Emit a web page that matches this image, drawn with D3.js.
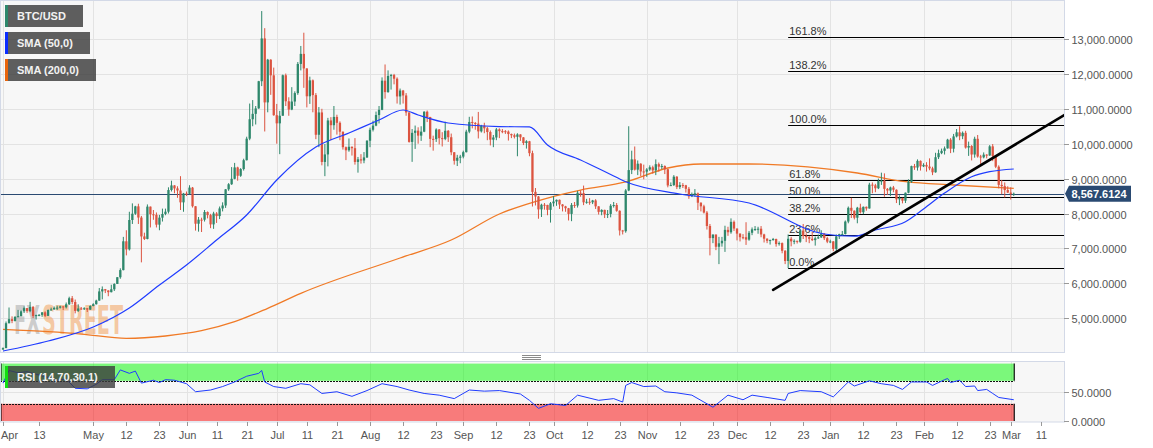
<!DOCTYPE html>
<html><head><meta charset="utf-8">
<script src="https://cdn.jsdelivr.net/npm/d3@7"></script>
<style>
html,body{margin:0;padding:0;background:#fff;}
svg{display:block;font-family:"Liberation Sans",Arial,sans-serif;}
</style></head><body>
<svg id="chart" width="1153" height="448"></svg>
<script>
// ---------------- DATA ----------------
const firstDay = "2019-04-01";
const open = [
4103,4144,4857,4973,4922,5036,5059,5198,5289,5204,5324,5064,5089,5096,5167,5067,5235,5251,5298,5303,5337,5314,5399,5572,5464,5210,5279,5268,5285,5247,
5350,5402,5505,5768,5831,5795,5746,5829,5982,6174,6379,7204,6972,7814,7994,8205,7884,7343,7271,8197,7978,7963,7680,7881,7987,8052,8673,8805,8719,8659,8319,
8574,8564,8742,8208,7707,7824,7822,8043,7954,7688,8000,7927,8145,8230,8693,8838,8994,9320,9081,9273,9527,10144,10701,10855,11011,11790,13016,11183,12407,11959,
10817,10583,10801,11961,11215,10978,11208,11450,12285,12573,12156,11358,11815,11392,10256,10895,9477,9693,10666,10530,10767,10599,10343,9900,9811,9912,9871,9477,9552,9519,9607,
10085,10399,10518,10821,10970,11805,11478,11941,11966,11862,11354,11523,11382,10895,10051,10311,10374,10231,10345,10916,10763,10138,10131,10407,10159,10138,10370,10185,9754,9510,9598,
9630,9757,10346,10623,10594,10575,10353,10517,10441,10334,10115,10178,10410,10360,10358,10347,10276,10241,10198,10266,10181,10019,10070,9729,8620,8486,8118,8251,8245,8104,
8293,8343,8393,8259,8205,8151,7988,8245,8228,8595,8586,8321,8336,8321,8374,8205,8047,8103,7973,7988,8222,8243,8078,7514,7493,8660,9244,9551,9256,9427,9205,
9199,9261,9324,9235,9413,9342,9360,9267,8804,8813,9055,8757,8815,8808,8708,8491,8550,8577,8309,8206,8027,7642,7296,7397,7047,7146,7218,7531,7463,7761,
7569,7424,7321,7320,7252,7448,7546,7556,7564,7400,7278,7217,7243,7269,7124,7152,6932,6640,7276,7202,7218,7191,7511,7355,7322,7275,7238,7290,7317,7422,7293,
7193,7200,6985,7345,7410,7411,7769,8163,8079,7879,8166,8037,8192,8144,8827,8807,8723,8929,8942,8706,8657,8745,8680,8406,8445,8367,8596,8910,9358,9316,9508,
9350,9392,9344,9293,9180,9613,9729,9795,9865,10116,9856,10208,10326,10214,10312,9889,9934,9690,10141,9633,9608,9686,9663,9924,9650,9341,8820,8784,8672,
8599,8562];
const high = [
4164,4906,5307,5053,5060,5238,5228,5338,5289,5468,5347,5103,5118,5176,5196,5250,5303,5336,5360,5358,5346,5450,5616,5636,5535,5398,5321,5315,5291,5370,
5430,5530,5865,5910,5838,5800,5960,6000,6180,6430,7330,7520,8050,8290,8220,8280,7930,7450,8260,8200,8100,8030,7960,8140,8140,8750,8940,8810,8780,9070,8590,
8630,8810,8760,8210,7900,7880,8100,8060,7990,8050,8040,8200,8320,8700,8870,9330,9450,9340,9300,9570,10200,11150,11250,11080,11800,13800,13310,12430,12420,12180,
11140,10940,11980,12010,11330,11620,11500,12340,12800,13180,12160,11920,11840,11450,11050,11000,9990,10740,10760,11080,10830,10640,10350,9920,10150,9920,10160,9620,9700,9760,10100,
10460,10660,10920,11080,11900,12270,12100,12000,12000,11900,11580,11540,11450,10900,10420,10520,10470,10500,10930,10950,10770,10230,10440,10420,10330,10630,10390,10290,9760,9680,9680,
9800,10400,10770,10780,10620,10910,10540,10600,10480,10380,10250,10450,10440,10420,10390,10380,10290,10290,10300,10270,10190,10100,10080,9800,8730,8500,8280,8300,8250,8330,
8500,8400,8400,8270,8220,8160,8300,8330,8650,8660,8800,8420,8440,8390,8410,8210,8120,8110,8100,8270,8330,8300,8090,7530,8700,10500,9800,9920,9520,9440,9400,
9300,9380,9370,9550,9460,9420,9380,9280,8890,9100,9070,8900,8870,8820,8760,8600,8700,8600,8320,8250,8070,7700,7400,7400,7330,7330,7650,7620,7860,7800,
7570,7430,7410,7750,7500,7600,7640,7620,7640,7420,7290,7250,7300,7280,7200,7170,6950,7400,7330,7260,7220,7520,7700,7430,7360,7480,7340,7400,7520,7440,7330,
7250,7210,7400,7420,7500,7800,8200,8450,8090,8190,8280,8200,8200,8880,8890,8850,9000,9170,9150,8730,8770,8790,8690,8520,8450,8600,8980,9370,9420,9550,9520,
9440,9470,9580,9340,9740,9830,9860,9920,10140,10160,10280,10420,10500,10350,10370,10060,9960,10200,10250,9680,9750,9700,9960,9990,9660,9380,8960,8890,8780,
8750,8600];
const low = [
4096,4140,4850,4858,4906,5023,5056,5150,5153,5172,5004,4962,5057,5040,5032,5065,5221,5245,5234,5278,5233,5280,5380,5400,5140,5180,5240,5236,5178,5238,
5340,5390,5500,5540,5720,5630,5740,5780,5980,6130,6370,6800,6940,7700,7960,7700,6600,7240,7260,7600,7820,7600,7520,7770,7950,8000,8630,8580,8450,8100,8050,
8500,8550,8170,7510,7480,7470,7770,7860,7580,7560,7730,7840,8060,8160,8650,8820,8980,8940,9050,9230,9520,10100,10500,10550,11000,11650,10350,10900,11400,10800,
10000,9700,10800,11080,10800,10960,11080,11400,12100,11600,11040,11140,10900,10130,9900,9380,9070,9350,10100,10400,10260,10100,9830,9530,9770,9660,9400,9170,9430,9440,9590,
9900,10350,10500,10580,10960,11290,11460,11550,11700,11150,11120,11150,10800,10030,9480,9850,10000,10080,10330,10620,9900,9800,10050,9980,9920,10100,10050,9670,9400,9360,9440,
9580,9750,10300,10440,10400,10150,10320,10300,10100,9950,9900,10100,10160,10300,10280,10090,10160,10150,9640,10080,9960,9860,9640,8200,8230,7850,7900,8110,7950,7740,
8200,8220,8130,8060,8050,7800,7780,8160,8170,8480,8240,8280,8250,8270,8130,7970,7950,7870,7870,7890,8170,8050,7370,7400,7450,8640,9130,9230,9100,9070,8980,
9050,9220,9140,9100,9200,9270,9130,8750,8790,8790,8700,8700,8730,8600,8420,8470,8480,8100,8060,8000,7540,6800,7150,6950,6550,7050,6900,7360,7420,7500,
7230,7200,7260,7100,7220,7380,7500,7420,7320,7170,7150,7110,7220,7050,7080,6860,6550,6435,7060,7120,7140,7160,7270,7180,7150,7210,7080,7270,7300,7240,7150,
7150,6920,6870,7270,7360,7400,7720,7870,7830,7720,8000,7980,8080,8140,8580,8610,8700,8820,8480,8530,8500,8610,8300,8240,8290,8300,8580,8880,9250,9230,9230,
9330,9200,9240,9100,9170,9560,9700,9690,9860,9730,9750,10180,10100,10130,9860,9650,9520,9600,9600,9420,9580,9580,9650,9500,9300,8720,8550,8460,8590,
8400,8500];
const close = [
4144,4857,4973,4922,5036,5059,5198,5289,5204,5324,5064,5089,5096,5167,5067,5235,5251,5298,5303,5337,5314,5399,5572,5464,5210,5279,5268,5285,5247,5350,
5402,5505,5768,5831,5795,5746,5829,5982,6174,6379,7204,6972,7814,7994,8205,7884,7343,7271,8197,7978,7963,7680,7881,7987,8052,8673,8805,8719,8659,8319,8574,
8564,8742,8208,7707,7824,7822,8043,7954,7688,8000,7927,8145,8230,8693,8838,8994,9320,9081,9273,9527,10144,10701,10855,11011,11790,13016,11183,12407,11959,10817,
10583,10801,11961,11215,10978,11208,11450,12285,12573,12156,11358,11815,11392,10256,10895,9477,9693,10666,10530,10767,10599,10343,9900,9811,9912,9871,9477,9552,9519,9607,10085,
10399,10518,10821,10970,11805,11478,11941,11966,11862,11354,11523,11382,10895,10051,10311,10374,10231,10345,10916,10763,10138,10131,10407,10159,10138,10370,10185,9754,9510,9598,9630,
9757,10346,10623,10594,10575,10353,10517,10441,10334,10115,10178,10410,10360,10358,10347,10276,10241,10198,10266,10181,10019,10070,9729,8620,8486,8118,8251,8245,8104,8293,
8343,8393,8259,8205,8151,7988,8245,8228,8595,8586,8321,8336,8321,8374,8205,8047,8103,7973,7988,8222,8243,8078,7514,7493,8660,9244,9551,9256,9427,9205,9199,
9261,9324,9235,9413,9342,9360,9267,8804,8813,9055,8757,8815,8808,8708,8491,8550,8577,8309,8206,8027,7642,7296,7397,7047,7146,7218,7531,7463,7761,7569,
7424,7321,7320,7252,7448,7546,7556,7564,7400,7278,7217,7243,7269,7124,7152,6932,6640,7276,7202,7218,7191,7511,7355,7322,7275,7238,7290,7317,7422,7293,7193,
7200,6985,7345,7410,7411,7769,8163,8079,7879,8166,8037,8192,8144,8827,8807,8723,8929,8942,8706,8657,8745,8680,8406,8445,8367,8596,8910,9358,9316,9508,9350,
9392,9344,9293,9180,9613,9729,9795,9865,10116,9856,10208,10326,10214,10312,9889,9934,9690,10141,9633,9608,9686,9663,9924,9650,9341,8820,8784,8672,8599,
8562,8567.6124];

const sma50Dates = ["2019-04-01","2019-04-16","2019-05-01","2019-05-13","2019-05-23","2019-06-01","2019-06-11","2019-06-21","2019-07-01","2019-07-14","2019-07-25","2019-08-04","2019-08-12","2019-08-17","2019-08-27","2019-09-13","2019-09-23","2019-09-29","2019-10-10","2019-10-19","2019-10-25","2019-11-12","2019-12-05","2019-12-30","2020-01-09","2020-01-16","2020-01-26","2020-02-01","2020-02-08","2020-02-17","2020-02-23","2020-03-02"];
const sma50Values = [4060,4347,4748,5292,5951,6524,7240,7957,8960,9905,10307,10679,10966,10822,10593,10490,10480,9963,9533,9160,8911,8558,8300,7413,7350,7527,7765,8129,8585,9054,9198,9275];

const sma200Dates = ["2019-04-01","2019-04-16","2019-04-27","2019-05-12","2019-05-25","2019-06-06","2019-06-17","2019-06-28","2019-07-09","2019-08-11","2019-08-28","2019-09-13","2019-09-29","2019-10-10","2019-10-25","2019-11-08","2019-11-19","2019-12-05","2020-01-10","2020-01-26","2020-02-11","2020-03-02"];
const sma200Values = [4680,4613,4547,4424,4490,4642,4900,5284,5713,6725,7240,7986,8444,8673,8903,9304,9418,9418,9160,8911,8817,8720];

const rsiDates = ["2019-04-01","2019-04-03","2019-04-06","2019-04-09","2019-04-13","2019-04-16","2019-04-19","2019-04-22","2019-04-25","2019-04-29","2019-05-02","2019-05-04","2019-05-08","2019-05-10","2019-05-13","2019-05-15","2019-05-17","2019-05-21","2019-05-23","2019-05-25","2019-05-28","2019-06-01","2019-06-04","2019-06-09","2019-06-13","2019-06-17","2019-06-21","2019-06-25","2019-06-26","2019-06-27","2019-06-30","2019-07-04","2019-07-09","2019-07-12","2019-07-16","2019-07-21","2019-07-26","2019-07-31","2019-08-05","2019-08-10","2019-08-14","2019-08-19","2019-08-24","2019-08-29","2019-09-03","2019-09-08","2019-09-13","2019-09-20","2019-09-23","2019-09-26","2019-09-30","2019-10-05","2019-10-09","2019-10-16","2019-10-21","2019-10-24","2019-10-25","2019-10-27","2019-10-31","2019-11-04","2019-11-07","2019-11-11","2019-11-16","2019-11-20","2019-11-23","2019-11-28","2019-12-03","2019-12-06","2019-12-11","2019-12-17","2019-12-18","2019-12-22","2019-12-29","2020-01-02","2020-01-07","2020-01-09","2020-01-14","2020-01-18","2020-01-22","2020-01-25","2020-01-28","2020-02-02","2020-02-04","2020-02-08","2020-02-09","2020-02-10","2020-02-13","2020-02-15","2020-02-18","2020-02-19","2020-02-22","2020-02-24","2020-02-26","2020-03-02"];
const rsiValues = [66,88,84,86,80,76,71,73,57,56,64,72,72,89,83,87,66,71,67,72,71,65,51,54,60,68,78,83,88,68,60,57,65,63,48,51,43,53,65,60,54,48,45,39,54,52,53,47,36,22,30,27,45,36,39,33,62,67,60,61,51,49,45,33,24,45,37,45,41,36,48,53,51,42,68,61,70,65,62,55,68,68,62,72,74,67,71,60,61,53,55,48,41,37];

const fibStart = "2019-12-18";
const fibLow = 6430, fibHigh = 10527;
const fibLevels = [0, 0.236, 0.382, 0.5, 0.618, 1, 1.382, 1.618];
const fibLabels = ["0.0%","23.6%","38.2%","50.0%","61.8%","100.0%","138.2%","161.8%"];

const trendDates = ["2019-12-13","2020-03-19"];
const trendValues = [5810, 10830];

const lastPrice = 8567.6124;
const priceTicks = [5000,6000,7000,8000,9000,10000,11000,12000,13000];
const rsiTicks = [0,50];
const tickDates = ["2019-04-01","2019-04-13","2019-05-01","2019-05-12","2019-05-23","2019-06-01","2019-06-11","2019-06-21","2019-07-01","2019-07-11","2019-07-21","2019-08-01","2019-08-12","2019-08-23","2019-09-01","2019-09-12","2019-09-23","2019-10-01","2019-10-12","2019-10-23","2019-11-01","2019-11-12","2019-11-23","2019-12-01","2019-12-12","2019-12-23","2020-01-01","2020-01-12","2020-01-23","2020-02-01","2020-02-12","2020-02-23","2020-03-01","2020-03-11"];
const tickLabels = ["Apr","13","May","12","23","Jun","11","21","Jul","11","21","Aug","12","23","Sep","12","23","Oct","12","23","Nov","12","23","Dec","12","23","Jan","12","23","Feb","12","23","Mar","11"];
const legendItems = ["BTC/USD","SMA (50,0)","SMA (200,0)"];
const watermarkParts = ["FX","STREET"];

// ---------------- LAYOUT ----------------
const parse = d3.utcParse("%Y-%m-%d");
const DAY = 864e5;
const t0 = parse(firstDay);
const dates = close.map((_, i) => new Date(+t0 + i * DAY));

const mainR = 1064, mainB = 352, rsiT = 362, rsiB = 422;
const x = d3.scaleUtc()
  .domain([parse("2019-03-31"), new Date(+parse("2020-03-18") + 0.7 * DAY)])
  .range([0, mainR]);
const y = d3.scaleLinear().domain([4032, 14117]).range([mainB, 0]);
const yR = d3.scaleLinear().domain([0, 100]).range([421, 363.6]);

const GREEN = "#2e876b", RED = "#dc5440", BLUE = "#1f3cff", ORANGE = "#f07a26", NAVY = "#2a4a72";

const svg = d3.select("#chart");
const defs = svg.append("defs");
defs.append("clipPath").attr("id", "clipMain").append("rect").attr("x", 1).attr("y", 1).attr("width", mainR - 1).attr("height", mainB - 1);
defs.append("clipPath").attr("id", "clipRsi").append("rect").attr("x", 1).attr("y", rsiT).attr("width", mainR - 1).attr("height", rsiB - rsiT);

// panels
svg.append("rect").attr("x", 0.5).attr("y", 0.5).attr("width", mainR).attr("height", mainB)
  .attr("fill", "#f7f7f7").attr("stroke", "#d3d9e7");
svg.append("rect").attr("x", 0.5).attr("y", rsiT - 0.5).attr("width", mainR).attr("height", rsiB - rsiT + 0.5)
  .attr("fill", "#f7f7f7").attr("stroke", "#d3d9e7");

// grid
const monthStarts = tickDates.filter(d => d.endsWith("-01")).map(parse);
const gMain = svg.append("g").attr("clip-path", "url(#clipMain)");
gMain.selectAll("line.hg").data(priceTicks).join("line")
  .attr("x1", 0).attr("x2", mainR).attr("y1", d => Math.round(y(d)) + 0.5).attr("y2", d => Math.round(y(d)) + 0.5)
  .attr("stroke", "#e3e3e3");
gMain.selectAll("line.vg").data(monthStarts).join("line")
  .attr("x1", d => Math.round(x(d)) + 0.5).attr("x2", d => Math.round(x(d)) + 0.5).attr("y1", 0).attr("y2", mainB)
  .attr("stroke", "#e3e3e3");
const gR = svg.append("g").attr("clip-path", "url(#clipRsi)");
gR.selectAll("line.vg").data(monthStarts).join("line")
  .attr("x1", d => Math.round(x(d)) + 0.5).attr("x2", d => Math.round(x(d)) + 0.5).attr("y1", rsiT).attr("y2", rsiB)
  .attr("stroke", "#e3e3e3");
gR.append("line").attr("x1", 0).attr("x2", mainR).attr("y1", Math.round(yR(50)) + 0.5).attr("y2", Math.round(yR(50)) + 0.5).attr("stroke", "#e3e3e3");

// watermark: two texts, horizontally squeezed with a transform to fixed widths
const wmFont = "'DejaVu Sans Condensed','Liberation Sans Narrow',Arial";
const wmSpec = [{x: 14, w: 26, fill: "rgba(150,150,150,0.45)"}, {x: 42, w: 81, fill: "rgba(242,160,90,0.55)"}];
watermarkParts.forEach((t, i) => {
  const s = wmSpec[i];
  const el = gMain.append("text").attr("x", 0).attr("y", 0).attr("font-size", 39).attr("font-weight", "bold")
    .attr("font-family", wmFont).attr("fill", s.fill).text(t);
  const nat = el.node().getComputedTextLength() || 1;
  el.attr("transform", `translate(${s.x},334) scale(${s.w / nat},1)`);
});

// fibonacci
const fx0 = x(parse(fibStart));
const fibG = gMain.append("g");
fibLevels.forEach((lv, i) => {
  const v = fibLow + (fibHigh - fibLow) * lv;
  const yy = Math.round(y(v)) + 0.5;
  fibG.append("line").attr("x1", fx0).attr("x2", mainR).attr("y1", yy).attr("y2", yy).attr("stroke", "#000").attr("stroke-width", 1.2);
  fibG.append("text").attr("x", fx0 + 1).attr("y", yy - 2.5).attr("font-size", 11).attr("fill", "#333").text(fibLabels[i]);
});

// last price line
gMain.append("line").attr("x1", 0).attr("x2", mainR).attr("y1", Math.round(y(lastPrice)) + 0.5).attr("y2", Math.round(y(lastPrice)) + 0.5)
  .attr("stroke", NAVY).attr("stroke-width", 1);

// SMA lines
const lineGen = d3.line().x(d => x(d[0])).y(d => y(d[1])).curve(d3.curveMonotoneX);
gMain.append("path").datum(sma200Dates.map((d, i) => [parse(d), sma200Values[i]]))
  .attr("d", lineGen).attr("fill", "none").attr("stroke", ORANGE).attr("stroke-width", 1.3);

// candles
const cg = gMain.append("g");
dates.forEach((d, i) => {
  const cx = x(d);
  const up = close[i] >= open[i];
  const col = up ? GREEN : RED;
  cg.append("line").attr("x1", cx).attr("x2", cx).attr("y1", y(high[i])).attr("y2", y(low[i]))
    .attr("stroke", col).attr("stroke-width", 1);
  const top = y(Math.max(open[i], close[i])), bot = y(Math.min(open[i], close[i]));
  cg.append("rect").attr("x", cx - 1.15).attr("width", 2.3).attr("y", top).attr("height", Math.max(1, bot - top)).attr("fill", col);
});

gMain.append("path").datum(sma50Dates.map((d, i) => [parse(d), sma50Values[i]]))
  .attr("d", lineGen).attr("fill", "none").attr("stroke", BLUE).attr("stroke-width", 1.2);

// trend line
gMain.append("line").attr("x1", x(parse(trendDates[0]))).attr("y1", y(trendValues[0]))
  .attr("x2", x(parse(trendDates[1]))).attr("y2", y(trendValues[1]))
  .attr("stroke", "#000").attr("stroke-width", 2.6).attr("stroke-linecap", "round");

// RSI bands
const bandEnd = x(dates[dates.length - 1]) + 0.5;
gR.append("rect").attr("x", 0).attr("y", yR(100)).attr("width", bandEnd).attr("height", yR(70) - yR(100)).attr("fill", "rgba(0,250,0,0.5)");
gR.append("rect").attr("x", 0).attr("y", yR(30)).attr("width", bandEnd).attr("height", yR(0) - yR(30)).attr("fill", "rgba(250,0,0,0.5)");
[[70, 100], [0, 30]].forEach(([a, b]) => {
  gR.append("line").attr("x1", bandEnd).attr("x2", bandEnd).attr("y1", yR(a)).attr("y2", yR(b)).attr("stroke", "#111").attr("stroke-width", 1.2);
  gR.append("line").attr("x1", 1).attr("x2", 1).attr("y1", yR(a)).attr("y2", yR(b)).attr("stroke", "#111").attr("stroke-width", 1.2);
});
[70, 30].forEach(v => {
  gR.append("line").attr("x1", 0).attr("x2", bandEnd).attr("y1", Math.round(yR(v)) + 0.5).attr("y2", Math.round(yR(v)) + 0.5)
    .attr("stroke", "#111").attr("stroke-dasharray", "2,1");
});
const rsiLine = d3.line().x(d => x(d[0])).y(d => yR(d[1]));
gR.append("path").datum(rsiDates.map((d, i) => [parse(d), rsiValues[i]]))
  .attr("d", rsiLine).attr("fill", "none").attr("stroke", BLUE).attr("stroke-width", 1);

// separator handle
[355, 357, 359].forEach(yy => svg.append("line").attr("x1", 522).attr("x2", 541).attr("y1", yy + 0.5).attr("y2", yy + 0.5).attr("stroke", "#8a8a8a"));

// right axes
const axisG = svg.append("g").attr("font-size", 11).attr("fill", "#555");
priceTicks.forEach(v => {
  const yy = Math.round(y(v)) + 0.5;
  axisG.append("line").attr("x1", mainR).attr("x2", mainR + 5).attr("y1", yy).attr("y2", yy).attr("stroke", "#999");
  axisG.append("text").attr("x", mainR + 7.5).attr("y", yy + 4).text(d3.format(",.4f")(v));
});
rsiTicks.forEach(v => {
  const yy = Math.round(yR(v)) + 0.5;
  axisG.append("line").attr("x1", mainR).attr("x2", mainR + 5).attr("y1", yy).attr("y2", yy).attr("stroke", "#999");
  axisG.append("text").attr("x", mainR + 7.5).attr("y", yy + 4).text(d3.format(",.4f")(v));
});

// price label
const py = y(lastPrice);
svg.append("path").attr("d", `M${mainR + 1},${py} L${mainR + 5},${py - 8} H1131 V${py + 8} H${mainR + 5} Z`).attr("fill", NAVY);
svg.append("text").attr("x", 1071.5).attr("y", py + 4).attr("font-size", 11).attr("font-weight", "bold").attr("fill", "#fff")
  .text(d3.format(",.4f")(lastPrice));

// bottom axis
const bx = svg.append("g").attr("font-size", 11).attr("fill", "#555");
tickDates.forEach((d, i) => {
  const xx = Math.round(x(parse(d))) + 0.5;
  bx.append("line").attr("x1", xx).attr("x2", xx).attr("y1", rsiB).attr("y2", rsiB + 4).attr("stroke", "#999");
  const t = bx.append("text").attr("x", xx).attr("y", 439).attr("text-anchor", "middle").text(tickLabels[i]);
  if (xx < 12) t.attr("x", 1).attr("text-anchor", "start");
});

// legend
const legColors = [GREEN, "#0a2cff", "#e8640c"];
const legW = [78, 85, 91];
legendItems.forEach((t, i) => {
  const yy = 5 + i * 27;
  svg.append("rect").attr("x", 5).attr("y", yy).attr("width", legW[i]).attr("height", 22).attr("fill", "rgba(60,60,60,0.82)");
  svg.append("rect").attr("x", 5).attr("y", yy).attr("width", 3).attr("height", 22).attr("fill", legColors[i]);
  svg.append("text").attr("x", 17).attr("y", yy + 15).attr("font-size", 11).attr("font-weight", "bold").attr("fill", "#f2f2f2").text(t);
});
// RSI label
svg.append("rect").attr("x", 5).attr("y", 366).attr("width", 110).attr("height", 22).attr("fill", "rgba(60,60,60,0.8)");
svg.append("rect").attr("x", 5).attr("y", 366).attr("width", 3).attr("height", 22).attr("fill", "#11dd11");
svg.append("text").attr("x", 17).attr("y", 381).attr("font-size", 11).attr("font-weight", "bold").attr("fill", "#f2f2f2").text("RSI (14,70,30,1)");
</script>
</body></html>
